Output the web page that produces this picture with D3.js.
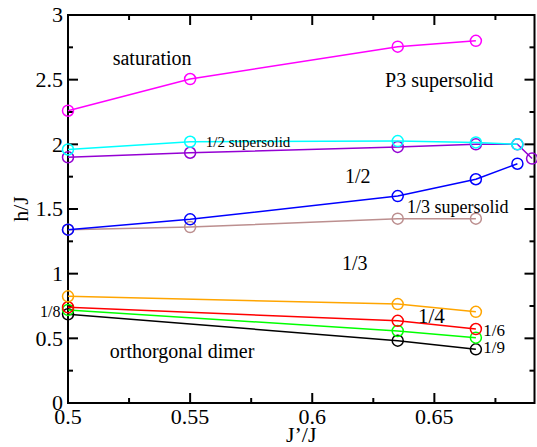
<!DOCTYPE html>
<html lang="en">
<head>
    <meta charset="UTF-8">
    <title>h/J vs J'/J</title>
    <script src="https://d3js.org/d3.v7.min.js"></script>
    <style>
        body { margin: 0; background: #fff; }
    </style>
</head>
<body>
    <div id="chart"></div>

    <script>
        // data
        var xFive = [0.5, 0.55, 0.635, 0.667, 0.684];
        var xThree = [0.5, 0.635, 0.667];

        var magentaY = [2.26, 2.505, 2.755, 2.80];
        var cyanY = [1.96, 2.02, 2.025, 2.015, 2.0];
        var purpleX = [0.5, 0.55, 0.635, 0.667, 0.684, 0.69];
        var purpleY = [1.90, 1.935, 1.98, 2.0, 2.0, 1.89];
        var blueY = [1.34, 1.42, 1.60, 1.73, 1.85];
        var brownY = [1.34, 1.36, 1.425, 1.425];
        var orangeY = [0.825, 0.765, 0.705];
        var redY = [0.74, 0.635, 0.572];
        var greenY = [0.72, 0.557, 0.505];
        var blackY = [0.686, 0.482, 0.415];

        var xTicks = [0.5, 0.55, 0.6, 0.65];
        var xMinor = [0.525, 0.575, 0.625, 0.675];
        var yTicks = [0, 0.5, 1, 1.5, 2, 2.5, 3];
        var yMinor = [0.25, 0.75, 1.25, 1.75, 2.25, 2.75];

        var labelText = ["saturation", "P3 supersolid", "1/2 supersolid", "1/2", "1/3 supersolid",
                         "1/3", "1/4", "1/6", "1/9", "1/8", "orthorgonal dimer"];
        var labelX = [0.5183, 0.6298, 0.5564, 0.6134, 0.6388, 0.6122, 0.6433, 0.67, 0.67, 0.4969, 0.5171];
        var labelY = [2.614, 2.444, 1.98, 1.70, 1.469, 1.029, 0.619, 0.515, 0.385, 0.667, 0.348];

        function zip(xs, ys) {
            return ys.map(function(y, i) { return { x: xs[i], y: y }; });
        }

        // drawn bottom to top
        var series = [
            { color: "#000000", pts: zip(xThree, blackY) },
            { color: "#00ff00", pts: zip(xThree, greenY) },
            { color: "#ff0000", pts: zip(xThree, redY) },
            { color: "#ffa500", pts: zip(xThree, orangeY) },
            { color: "#bc8f8f", pts: zip(xFive, brownY) },
            { color: "#0000ff", pts: zip(xFive, blueY) },
            { color: "#9400d3", pts: zip(purpleX, purpleY) },
            { color: "#00ffff", pts: zip(xFive, cyanY) },
            { color: "#ff00ff", pts: zip(xFive, magentaY) }
        ];

        var serif = "'Liberation Serif', 'Times New Roman', Times, 'DejaVu Serif', serif";

        var width = 537, height = 447;
        var margin = { top: 15, right: 2.5, bottom: 44, left: 68 };
        var w = width - margin.left - margin.right;
        var h = height - margin.top - margin.bottom;

        var svg = d3.select("#chart")
            .append("svg")
            .attr("width", width)
            .attr("height", height)
            .attr("font-family", serif);

        var g = svg.append("g")
            .attr("transform", "translate(" + margin.left + "," + margin.top + ")");

        var x = d3.scaleLinear().domain([0.5, 0.691]).range([0, w]);
        var y = d3.scaleLinear().domain([0, 3]).range([h, 0]);

        // inward ticks on all four sides
        function ticks(sel, vals, len) {
            vals.forEach(function(v) {
                sel.append("line").attr("x1", x(v)).attr("x2", x(v)).attr("y1", h).attr("y2", h - len);
                sel.append("line").attr("x1", x(v)).attr("x2", x(v)).attr("y1", 0).attr("y2", len);
            });
        }
        function yticks(sel, vals, len) {
            vals.forEach(function(v) {
                sel.append("line").attr("x1", 0).attr("x2", len).attr("y1", y(v)).attr("y2", y(v));
                sel.append("line").attr("x1", w).attr("x2", w - len).attr("y1", y(v)).attr("y2", y(v));
            });
        }
        var tg = g.append("g").attr("stroke", "#000").attr("stroke-width", 2);
        ticks(tg, xTicks, 10);
        ticks(tg, xMinor, 5);
        yticks(tg, yTicks, 10);
        yticks(tg, yMinor, 5);

        g.append("rect")
            .attr("x", 0).attr("y", 0)
            .attr("width", w).attr("height", h)
            .attr("fill", "none")
            .attr("stroke", "#000")
            .attr("stroke-width", 2);

        g.selectAll(".xl")
            .data(xTicks)
            .enter()
            .append("text")
            .attr("x", function(d) { return x(d); })
            .attr("y", h + 21)
            .attr("text-anchor", "middle")
            .attr("font-size", "22px")
            .text(function(d) { return d; });

        g.selectAll(".yl")
            .data(yTicks)
            .enter()
            .append("text")
            .attr("x", -5)
            .attr("y", function(d) { return y(d); })
            .attr("dy", "0.33em")
            .attr("text-anchor", "end")
            .attr("font-size", "22px")
            .text(function(d) { return d; });

        svg.append("text")
            .attr("x", margin.left + w / 2)
            .attr("y", 442)
            .attr("text-anchor", "middle")
            .attr("font-size", "22px")
            .text("J\u2019/J");

        svg.append("text")
            .attr("transform", "translate(28," + (margin.top + h / 2) + ") rotate(-90)")
            .attr("text-anchor", "middle")
            .attr("font-size", "22px")
            .text("h/J");

        var line = d3.line()
            .x(function(d) { return x(d.x); })
            .y(function(d) { return y(d.y); });

        series.forEach(function(s) {
            g.append("path")
                .datum(s.pts)
                .attr("d", line)
                .attr("fill", "none")
                .attr("stroke", s.color)
                .attr("stroke-width", 1.5);
            g.selectAll(null)
                .data(s.pts)
                .enter()
                .append("circle")
                .attr("cx", function(d) { return x(d.x); })
                .attr("cy", function(d) { return y(d.y); })
                .attr("r", 5.5)
                .attr("fill", "none")
                .attr("stroke", s.color)
                .attr("stroke-width", 1.5);
        });

        var labelSize = [20, 20, 15, 20, 18, 20, 21, 17, 17, 16, 20];
        g.selectAll(".lab")
            .data(labelText)
            .enter()
            .append("text")
            .attr("x", function(d, i) { return x(labelX[i]); })
            .attr("y", function(d, i) { return y(labelY[i]); })
            .attr("text-anchor", function(d) { return d == "1/8" ? "end" : "start"; })
            .attr("font-size", function(d, i) { return labelSize[i] + "px"; })
            .text(function(d) { return d; });
    </script>
</body>
</html>
